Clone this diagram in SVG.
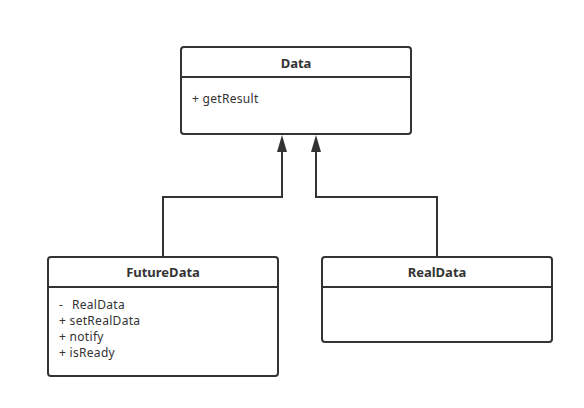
<svg xmlns="http://www.w3.org/2000/svg" width="584" height="408" viewBox="0 0 584 408">
<style>
.box{fill:#fff;stroke:#333;stroke-width:2}
.div{stroke:#333;stroke-width:2}
.title{font-family:"Noto Sans","Open Sans",sans-serif;font-size:13px;font-weight:bold;fill:#333;text-anchor:middle}
.txt{font-family:"Noto Sans","Open Sans",sans-serif;font-size:12px;letter-spacing:0.3px;fill:#333}
.conn{fill:none;stroke:#333;stroke-width:2}
</style>
<rect width="584" height="408" fill="#fff"/>
<g id="connectors">
<path class="conn" d="M163,257 V197 H282 V150"/>
<path d="M277,152 L282,135 L287,152 Z" fill="#333"/>
<path class="conn" d="M437,257 V197 H316 V150"/>
<path d="M311,152 L316,135 L321,152 Z" fill="#333"/>
</g>
<g id="Data">
<rect class="box" x="181" y="47" width="230" height="87" rx="3"/>
<line class="div" x1="181" y1="77" x2="411" y2="77"/>
<text class="title" x="296" y="68">Data</text>
<text class="txt" x="192" y="103">+ getResult</text>
</g>
<g id="FutureData">
<rect class="box" x="48" y="257" width="230" height="119" rx="3"/>
<line class="div" x1="48" y1="287" x2="278" y2="287"/>
<text class="title" x="163" y="277">FutureData</text>
<text class="txt" x="59" y="309">-<tspan x="72">RealData</tspan></text>
<text class="txt" x="59" y="325">+ setRealData</text>
<text class="txt" x="59" y="341">+ notify</text>
<text class="txt" x="59" y="357">+ isReady</text>
</g>
<g id="RealData">
<rect class="box" x="322" y="257" width="230" height="85" rx="3"/>
<line class="div" x1="322" y1="287" x2="552" y2="287"/>
<text class="title" x="437" y="277">RealData</text>
</g>
</svg>
